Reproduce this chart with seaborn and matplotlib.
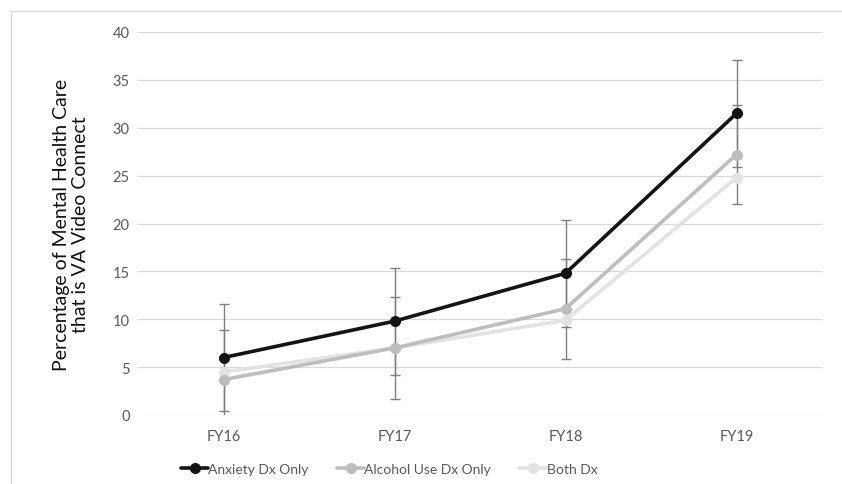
import matplotlib
matplotlib.use("Agg")
import matplotlib.pyplot as plt
import seaborn as sns
import pandas as pd
from matplotlib.lines import Line2D

years = ["FY16", "FY17", "FY18", "FY19"]
anxiety = [6.0, 9.8, 14.8, 31.5]
alcohol = [3.7, 7.0, 11.1, 27.2]
both = [4.5, 7.0, 9.9, 24.8]
anxiety_err = [5.6, 5.6, 5.6, 5.6]
alcohol_err = [5.2, 5.3, 5.2, 5.2]
series_names = ["Anxiety Dx Only", "Alcohol Use Dx Only", "Both Dx"]
colors = ["#141414", "#bdbdbd", "#e2e2e2"]

sns.set_theme(style="white")
plt.rcParams["font.family"] = ["Lato", "DejaVu Sans"]

df = pd.DataFrame({
    "Year": years * 3,
    "Value": anxiety + alcohol + both,
    "Series": [s for s in series_names for _ in years],
})

fig = plt.figure(figsize=(8.42, 4.85), dpi=100)
ax = fig.add_axes([138/842, 1-416/485, (822-138)/842, (416-33)/485])

# error bars
ax.errorbar(years, anxiety, yerr=anxiety_err, fmt="none", ecolor="#7f7f7f",
            elinewidth=1, capsize=3.5, capthick=1, zorder=1)
ax.errorbar(years, alcohol, yerr=alcohol_err, fmt="none", ecolor="#7f7f7f",
            elinewidth=1, capsize=3.5, capthick=1, zorder=1)

sns.lineplot(data=df, x="Year", y="Value", hue="Series", palette=colors,
             marker="o", markersize=8, markeredgewidth=0, linewidth=2.6,
             ax=ax, legend=False, zorder=3, sort=False)
for i, ln in enumerate(ax.get_lines()[-3:]):
    ln.set_zorder(5 - i)

ax.set_xlim(-0.5, 3.5)
ax.set_ylim(0, 40)
ax.set_yticks(range(0, 41, 5))
ax.grid(axis="y", color="#d9d9d9", linewidth=0.9)
ax.set_axisbelow(True)
for s in ax.spines.values():
    s.set_visible(False)
ax.tick_params(axis="y", length=0, pad=6, labelsize=10.5, labelcolor="#595959")
ax.tick_params(axis="x", length=0, pad=10, labelsize=10.5, labelcolor="#595959")
ax.set_xlabel("")
ax.set_ylabel("")

fig.text(71/842, 1-225/485, "Percentage of Mental Health Care\nthat is VA Video Connect",
         rotation=90, ha="center", va="center", fontsize=14, color="#111111",
         linespacing=1.15)

handles = [Line2D([0], [0], color=c, lw=2.6, marker="o", markersize=8,
                  markeredgewidth=0) for c in colors]
fig.legend(handles, series_names, loc="center", bbox_to_anchor=(389/842, 1-470/485),
           ncol=3, frameon=False, fontsize=10, labelcolor="#595959",
           handlelength=2.0, handletextpad=0.0, columnspacing=2.0)

# chart frame (light gray, partially cropped)
fig.add_artist(Line2D([11/842, 1.0], [1-12/485, 1-12/485], color="#d9d9d9", lw=1,
                      transform=fig.transFigure))
fig.add_artist(Line2D([11/842, 11/842], [0.0, 1-12/485], color="#d9d9d9", lw=1,
                      transform=fig.transFigure))

fig.savefig("out.png", dpi=100)
